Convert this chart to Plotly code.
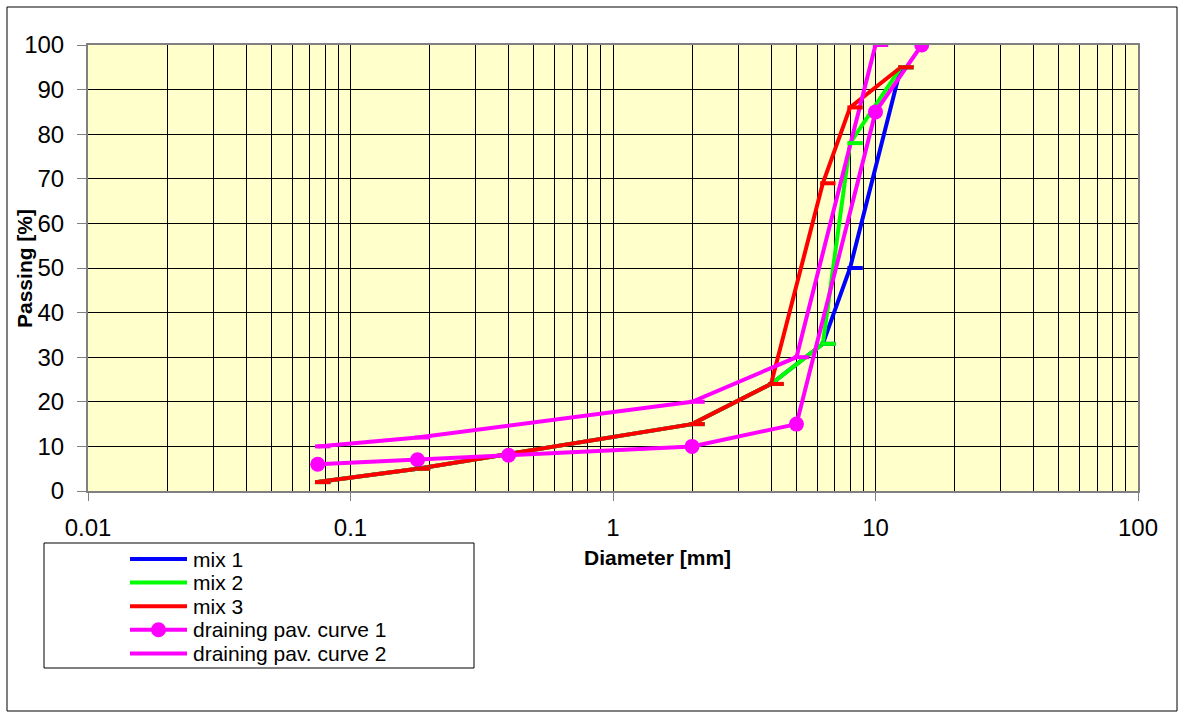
import plotly.graph_objects as go

# Sieve openings [mm] and cumulative passing [%]
sieve_mix = [0.075, 0.18, 2, 4, 6.3, 8, 12.5]
mix_1 = [2, 5, 15, 24, 33, 50, 95]
mix_2 = [2, 5, 15, 24, 33, 78, 95]
mix_3 = [2, 5, 15, 24, 69, 86, 95]

sieve_curve_1 = [0.075, 0.18, 0.4, 2, 5, 10, 15]
curve_1 = [6, 7, 8, 10, 15, 85, 100]

sieve_curve_2 = [0.075, 0.18, 2, 5, 10]
curve_2 = [10, 12, 20, 30, 100]

names = ["mix 1", "mix 2", "mix 3", "draining pav. curve 1", "draining pav. curve 2"]
colors = ["#0000FF", "#00FF00", "#FF0000", "#FF00FF", "#FF00FF"]

x_ticks = [0.01, 0.1, 1, 10, 100]
x_tick_text = ["0.01", "0.1", "1", "10", "100"]

FONT = "Arial, Liberation Sans, sans-serif"
W, H = 1184, 718
L, R, T, B = 88, 1138, 45, 491


def px(x):
    return (x - L) / (R - L)


def py(y):
    return (B - y) / (B - T)


series = [
    (names[0], sieve_mix, mix_1, colors[0], "dash"),
    (names[1], sieve_mix, mix_2, colors[1], "dash"),
    (names[2], sieve_mix, mix_3, colors[2], "dash"),
    (names[3], sieve_curve_1, curve_1, colors[3], "circle"),
    (names[4], sieve_curve_2, curve_2, colors[4], "dash"),
]

fig = go.Figure()

for name, xs, ys, col, sym in series:
    if sym == "circle":
        fig.add_trace(go.Scatter(
            x=xs, y=ys, name=name, mode="lines+markers",
            line=dict(color=col, width=4),
            marker=dict(symbol="circle", size=15, color=col),
            showlegend=False, xaxis="x", yaxis="y",
        ))
    else:
        fig.add_trace(go.Scatter(
            x=xs, y=ys, name=name, mode="lines",
            line=dict(color=col, width=4),
            showlegend=False, xaxis="x", yaxis="y",
        ))

# dash markers sit just right of each data point (drawn on a slightly shifted twin axis)
shift = 5 / (R - L) * 4
for name, xs, ys, col, sym in series:
    if sym == "dash":
        fig.add_trace(go.Scatter(
            x=xs, y=ys, name=name, mode="markers",
            marker=dict(symbol="line-ew", size=11, color=col,
                        line=dict(color=col, width=4)),
            showlegend=False, xaxis="x2", yaxis="y", hoverinfo="skip",
        ))

axis_line = dict(showline=True, linecolor="#808080", linewidth=2, mirror=True)

fig.update_layout(
    width=W, height=H,
    margin=dict(l=L, r=W - R, t=T, b=H - B),
    paper_bgcolor="white",
    plot_bgcolor="#FFFFCC",
    font=dict(family=FONT, color="black"),
    showlegend=False,
    xaxis=dict(
        type="log", range=[-2, 2],
        tickmode="array", tickvals=x_ticks, ticktext=x_tick_text,
        showgrid=True, gridcolor="black", gridwidth=1,
        minor=dict(dtick="D1", showgrid=True, gridcolor="black", gridwidth=1, ticks=""),
        ticks="outside", ticklen=8, tickcolor="#808080", tickwidth=1,
        tickfont=dict(size=24, color="black"), ticklabelstandoff=6,
        zeroline=False, **axis_line,
    ),
    xaxis2=dict(
        type="log", range=[-2 - shift, 2 - shift], overlaying="x",
        visible=False, showgrid=False,
    ),
    yaxis=dict(
        range=[0, 100], dtick=10, tick0=0,
        showgrid=True, gridcolor="black", gridwidth=1,
        ticks="outside", ticklen=9, tickcolor="#808080", tickwidth=1,
        tickfont=dict(size=24, color="black"), ticklabelstandoff=8,
        zeroline=False, **axis_line,
    ),
)

shapes = []
annotations = []

# chart border
shapes.append(dict(type="rect", xref="paper", yref="paper",
                   x0=px(7), x1=px(1177), y0=py(711), y1=py(7),
                   line=dict(color="black", width=1)))

# axis titles
annotations.append(dict(text="<b>Diameter [mm]</b>", x=px(657), y=py(557),
                        xref="paper", yref="paper", showarrow=False,
                        xanchor="center", yanchor="middle",
                        font=dict(size=21, family=FONT, color="black")))
annotations.append(dict(text="<b>Passing [%]</b>", x=px(24), y=py(269),
                        xref="paper", yref="paper", showarrow=False,
                        textangle=-90, xanchor="center", yanchor="middle",
                        font=dict(size=21, family=FONT, color="black")))

# legend box
shapes.append(dict(type="rect", xref="paper", yref="paper",
                   x0=px(44), x1=px(474), y0=py(668), y1=py(543),
                   line=dict(color="black", width=1), fillcolor="white", layer="above"))

row0, row_step = 559, 23.6
for i, (name, xs, ys, col, sym) in enumerate(series):
    yy = row0 + i * row_step
    shapes.append(dict(type="line", xref="paper", yref="paper",
                       x0=px(130), x1=px(187), y0=py(yy), y1=py(yy),
                       line=dict(color=col, width=4), layer="above"))
    if sym == "circle":
        shapes.append(dict(type="circle", xref="paper", yref="paper",
                           x0=px(151), x1=px(166), y0=py(yy + 7.5), y1=py(yy - 7.5),
                           fillcolor=col, line=dict(color=col, width=0), layer="above"))
    annotations.append(dict(text=name, x=px(191), y=py(yy), xref="paper", yref="paper",
                            showarrow=False, xanchor="left", yanchor="middle",
                            font=dict(size=21, family=FONT, color="black")))

fig.update_layout(shapes=shapes, annotations=annotations)

fig.write_html("out.html")
